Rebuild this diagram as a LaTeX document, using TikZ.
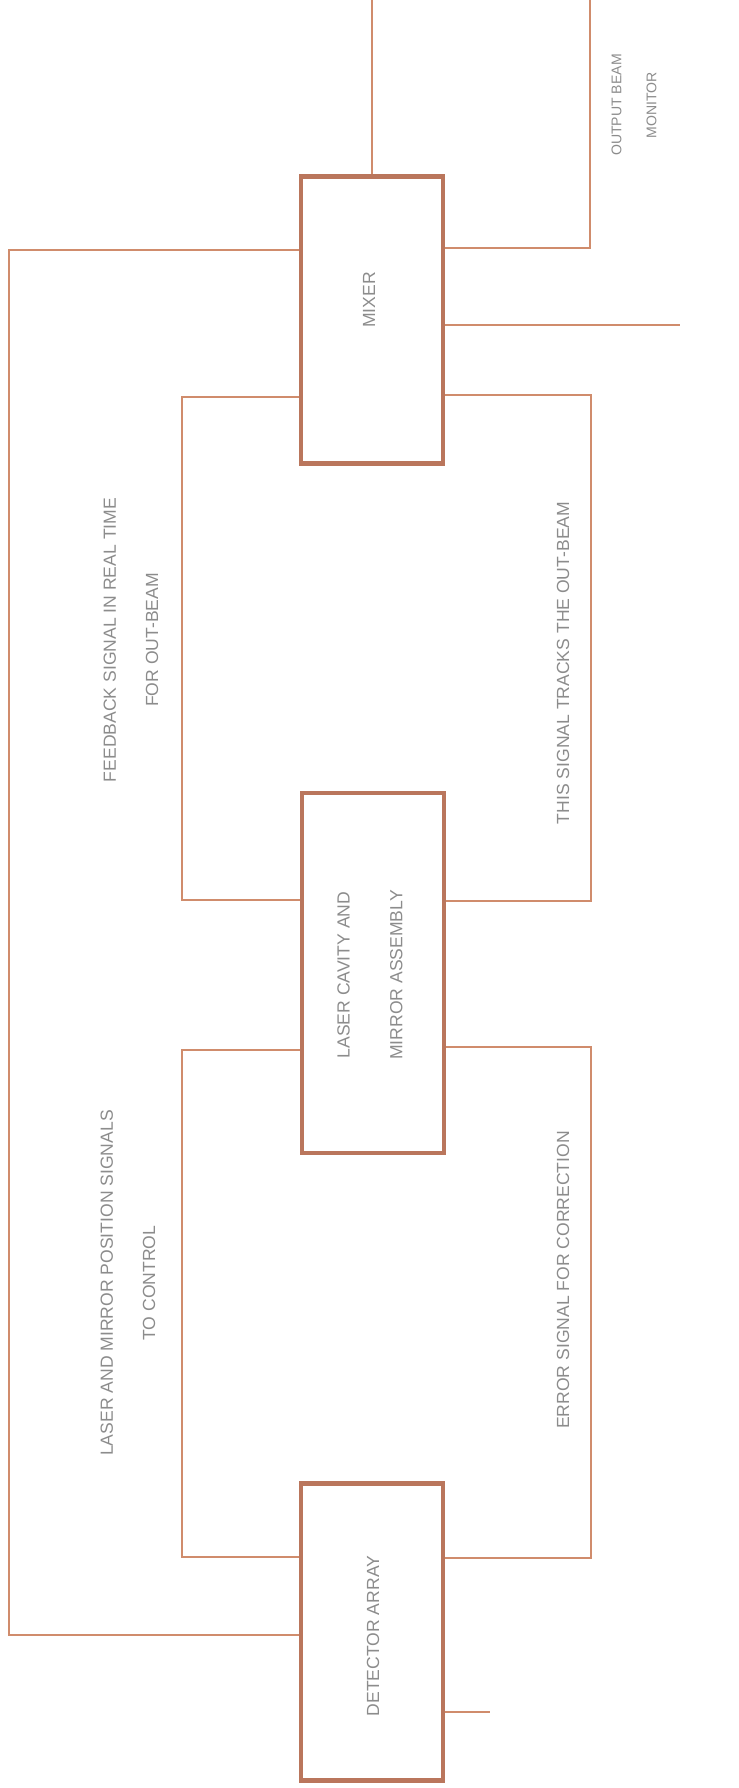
\documentclass[tikz,border=0pt]{standalone}
\usepackage{fontspec}
\setmainfont{Liberation Sans}
\usepackage{xcolor}
\usepackage{tikz}

\definecolor{copper}{RGB}{208,140,108}
\definecolor{copperdark}{RGB}{186,118,92}

\begin{document}
\begin{tikzpicture}[x=0.02cm, y=-0.02cm,
  block/.style={rectangle, draw=copperdark, line width=0.09cm, minimum width=2.84cm, inner sep=0pt},
  wire/.style={draw=copper, line width=0.05cm},
  tag/.style={rotate=90, font=\fontsize{10}{24}\selectfont, text=black!45, align=center}
]
\useasboundingbox (0,0) rectangle (739,1788);

% Blocks
\node[block, minimum height=5.74cm] (mixer) at (372,320) {};
\node[block, minimum height=7.2cm] (cavity) at (373,973) {};
\node[block, minimum height=5.94cm] (detector) at (372,1632) {};

\node[tag] at (369,300) {MIXER};
\node[tag, font=\fontsize{10}{30}\selectfont] at (370,975) {LASER CAVITY AND\\MIRROR ASSEMBLY};
\node[tag] at (373,1636) {DETECTOR ARRAY};

% Free ends
\coordinate (topout) at (372,0);
\coordinate (sideout) at (590,0);
\coordinate (beamout) at (680,325);
\coordinate (feedin) at (490,1712);

% Outer loop on the left
\draw[wire] (mixer.west |- 0,250) -| (9,1635) -- (detector.west |- 0,1635);

% Inner loops on the left
\draw[wire] (mixer.west |- 0,397) -| (182,900) -- (cavity.west |- 0,900);
\draw[wire] (cavity.west |- 0,1050) -| (182,1557) -- (detector.west |- 0,1557);

% Loops on the right
\draw[wire] (mixer.east |- 0,395) -| (591,901) -- (cavity.east |- 0,901);
\draw[wire] (cavity.east |- 0,1047) -| (591,1558) -- (detector.east |- 0,1558);

% Outputs and input
\draw[wire] (mixer.north) -- (topout);
\draw[wire] (mixer.east |- 0,248) -| (sideout);
\draw[wire] (mixer.east |- 0,325) -- (beamout);
\draw[wire] (detector.east |- 0,1712) -- (feedin);

% Loop labels
\node[tag] at (131,640) {FEEDBACK SIGNAL IN REAL TIME\\FOR OUT-BEAM};
\node[tag] at (128,1283) {LASER AND MIRROR POSITION SIGNALS\\TO CONTROL};
\node[tag] at (563,663) {THIS SIGNAL TRACKS THE OUT-BEAM};
\node[tag] at (563,1280) {ERROR SIGNAL FOR CORRECTION};
\node[tag, font=\fontsize{8}{20}\selectfont] at (634,105) {OUTPUT BEAM\\MONITOR};

\end{tikzpicture}
\end{document}
